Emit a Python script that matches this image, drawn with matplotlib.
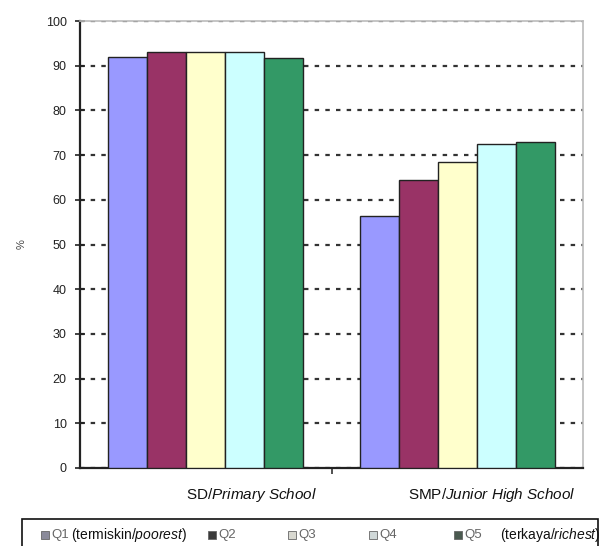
import matplotlib.pyplot as plt
import matplotlib.patches as mpatches
import numpy as np

plt.rcParams['font.family'] = ['Liberation Sans', 'DejaVu Sans']
plt.rcParams['mathtext.fontset'] = 'custom'
plt.rcParams['mathtext.rm'] = 'Liberation Sans'
plt.rcParams['mathtext.it'] = 'Liberation Sans:italic'

# school level and quintile shares (%)
levels = ['SD/$\\mathit{Primary\\ School}$', 'SMP/$\\mathit{Junior\\ High\\ School}$']
quintiles = ['Q1', 'Q2', 'Q3', 'Q4', 'Q5']
q1 = [92.0, 56.4]
q2 = [93.1, 64.4]
q3 = [93.0, 68.5]
q4 = [93.0, 72.5]
q5 = [91.8, 73.0]
colors = ['#9999ff', '#993366', '#ffffcc', '#ccffff', '#339966']
yticks = np.arange(0, 101, 10)

fig = plt.figure(figsize=(6.01, 5.46), dpi=100)
ax = fig.add_axes([80/601, 1-468/546, 503/601, 447/546])

x = np.arange(len(levels))
w = 0.155
series = [q1, q2, q3, q4, q5]
for i, vals in enumerate(series):
    ax.bar(x + (i-2)*w, vals, w, color=colors[i], edgecolor='#222222', linewidth=1.0, zorder=3)

ax.set_xlim(-0.5, 1.5)
ax.set_ylim(0, 100)
ax.set_yticks(yticks)
ax.tick_params(axis='y', direction='inout', length=7, width=1.2, labelsize=9, colors='#222222', pad=6)
ax.set_xticks([0.5])
ax.set_xticklabels([])
ax.tick_params(axis='x', direction='out', length=4, width=1.2, colors='#333333')
ax.yaxis.grid(True, color='#333333', linestyle=(0, (2, 2.8)), linewidth=1.6, zorder=0)
ax.set_axisbelow(True)
for s in ['top', 'right']:
    ax.spines[s].set_color('#bbbbbb')
    ax.spines[s].set_linewidth(1.2)
for s in ['left', 'bottom']:
    ax.spines[s].set_color('#222222')
    ax.spines[s].set_linewidth(1.6)

ax.set_ylabel('%', fontsize=8, color='#444444', labelpad=14)

# category labels sit a bit right of the groups
for xpos, lab in zip([0.184, 1.138], levels):
    ax.text(xpos, -0.06, lab, transform=ax.get_xaxis_transform(), ha='center', va='center',
            fontsize=11, color='#111111')

# legend box at the bottom
fig.patches.append(mpatches.Rectangle((22/601, -0.05), 576/601, 0.05 + 1 - 519/546,
                                      transform=fig.transFigure, fill=False,
                                      edgecolor='#111111', linewidth=1.2))
ly = 1 - 535/546
marker_x = [44, 211, 291, 372, 457]
marker_col = ['#8a8a9a', '#3a3a3a', '#d8d8d0', '#d0d8d8', '#4a5a50']
for mx, mc, q in zip(marker_x, marker_col, quintiles):
    fig.patches.append(mpatches.Rectangle(((mx-3.5)/601, ly - 4/546), 8/601, 8/546,
                                          transform=fig.transFigure, facecolor=mc,
                                          edgecolor='#666666', linewidth=0.6))
    fig.text((mx+7)/601, ly, q, fontsize=9.5, color='#666666', ha='left', va='center')
fig.text(71/601, ly, '(termiskin/$\\mathit{poorest}$)', fontsize=10, ha='left', va='center', color='#111111')
fig.text(500/601, ly, '(terkaya/$\\mathit{richest}$)', fontsize=10, ha='left', va='center', color='#111111')

fig.savefig('out.png', dpi=100)
